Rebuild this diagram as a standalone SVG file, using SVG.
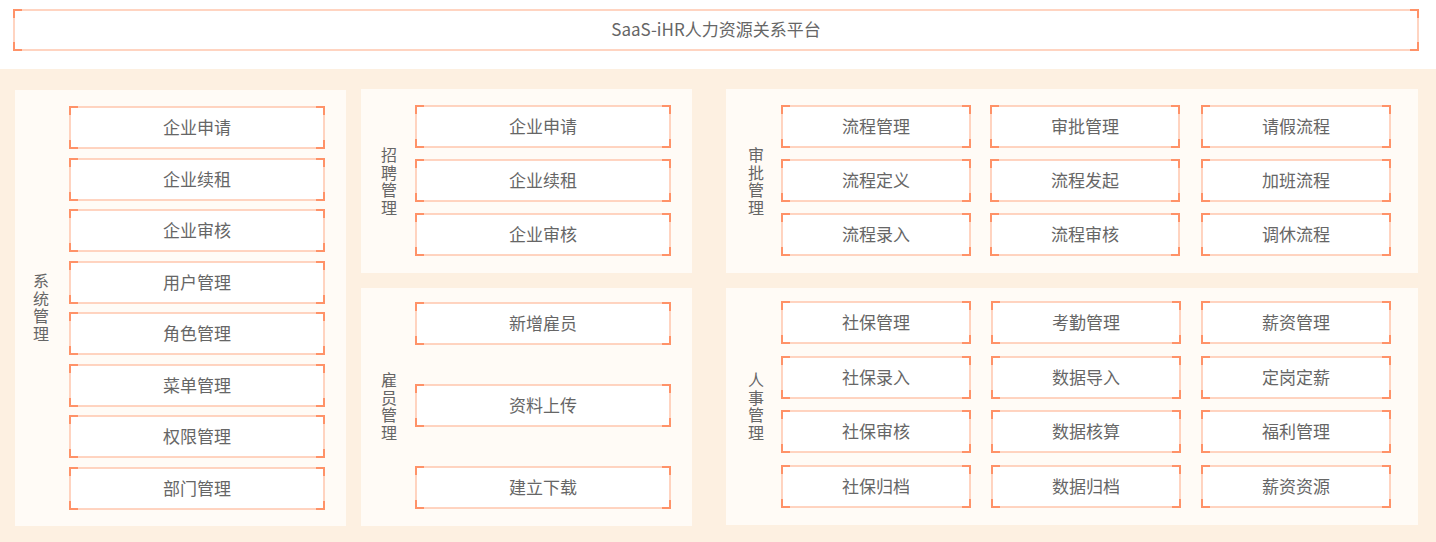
<svg xmlns="http://www.w3.org/2000/svg" width="1436" height="542" viewBox="0 0 1436 542">
<style>
.bg{fill:#fdf0e1}
.panel{fill:#fffbf6}
.box{fill:#ffffff;stroke:#ffc6ad;stroke-width:1.5}
.cn{fill:none;stroke:#ff9268;stroke-width:2}
.t{font-family:"Noto Sans CJK SC","Noto Sans",sans-serif;font-size:17px;fill:#666666;text-anchor:middle}
.v{font-family:"Noto Sans CJK SC","Noto Sans",sans-serif;font-size:16px;fill:#666666;text-anchor:middle;writing-mode:vertical-rl;letter-spacing:1.5px}
</style>
<rect x="0" y="0" width="1436" height="542" fill="#ffffff"/>
<rect class="bg" x="0" y="69" width="1436" height="473"/>

<g id="top">
<rect class="box" x="14" y="10" width="1404" height="40"/>
<path class="cn" d="M14,18V10H22M1410,10H1418V18M1418,42V50H1410M22,50H14V42"/>
<text class="t" x="716" y="36">SaaS-iHR人力资源关系平台</text>
</g>

<g id="panels">
<rect class="panel" x="15" y="90" width="331" height="436"/>
<rect class="panel" x="361" y="89" width="331" height="184"/>
<rect class="panel" x="361" y="288" width="331" height="238"/>
<rect class="panel" x="726" y="89" width="692" height="184"/>
<rect class="panel" x="726" y="288" width="692" height="237"/>
</g>

<g id="labels">
<text class="v" x="41" y="308">系统管理</text>
<text class="v" x="389" y="182">招聘管理</text>
<text class="v" x="389" y="407">雇员管理</text>
<text class="v" x="756" y="182">审批管理</text>
<text class="v" x="756" y="407">人事管理</text>
</g>

<g id="sys">
<g id="sys1"><rect class="box" x="70" y="107" width="254" height="41"/><path class="cn" d="M70,115V107H78M316,107H324V115M324,140V148H316M78,148H70V140"/><text class="t" x="197" y="134">企业申请</text></g>
<g id="sys2"><rect class="box" x="70" y="159" width="254" height="41"/><path class="cn" d="M70,167V159H78M316,159H324V167M324,192V200H316M78,200H70V192"/><text class="t" x="197" y="186">企业续租</text></g>
<g id="sys3"><rect class="box" x="70" y="210" width="254" height="41"/><path class="cn" d="M70,218V210H78M316,210H324V218M324,243V251H316M78,251H70V243"/><text class="t" x="197" y="237">企业审核</text></g>
<g id="sys4"><rect class="box" x="70" y="262" width="254" height="41"/><path class="cn" d="M70,270V262H78M316,262H324V270M324,295V303H316M78,303H70V295"/><text class="t" x="197" y="289">用户管理</text></g>
<g id="sys5"><rect class="box" x="70" y="313" width="254" height="41"/><path class="cn" d="M70,321V313H78M316,313H324V321M324,346V354H316M78,354H70V346"/><text class="t" x="197" y="340">角色管理</text></g>
<g id="sys6"><rect class="box" x="70" y="365" width="254" height="41"/><path class="cn" d="M70,373V365H78M316,365H324V373M324,398V406H316M78,406H70V398"/><text class="t" x="197" y="392">菜单管理</text></g>
<g id="sys7"><rect class="box" x="70" y="416" width="254" height="41"/><path class="cn" d="M70,424V416H78M316,416H324V424M324,449V457H316M78,457H70V449"/><text class="t" x="197" y="443">权限管理</text></g>
<g id="sys8"><rect class="box" x="70" y="468" width="254" height="41"/><path class="cn" d="M70,476V468H78M316,468H324V476M324,501V509H316M78,509H70V501"/><text class="t" x="197" y="495">部门管理</text></g>
</g>

<g id="recruit">
<g id="rec1"><rect class="box" x="416" y="106" width="254" height="41"/><path class="cn" d="M416,114V106H424M662,106H670V114M670,139V147H662M424,147H416V139"/><text class="t" x="543" y="133">企业申请</text></g>
<g id="rec2"><rect class="box" x="416" y="160" width="254" height="41"/><path class="cn" d="M416,168V160H424M662,160H670V168M670,193V201H662M424,201H416V193"/><text class="t" x="543" y="187">企业续租</text></g>
<g id="rec3"><rect class="box" x="416" y="214" width="254" height="41"/><path class="cn" d="M416,222V214H424M662,214H670V222M670,247V255H662M424,255H416V247"/><text class="t" x="543" y="241">企业审核</text></g>
</g>

<g id="employee">
<g id="emp1"><rect class="box" x="416" y="303" width="254" height="41"/><path class="cn" d="M416,311V303H424M662,303H670V311M670,336V344H662M424,344H416V336"/><text class="t" x="543" y="330">新增雇员</text></g>
<g id="emp2"><rect class="box" x="416" y="385" width="254" height="41"/><path class="cn" d="M416,393V385H424M662,385H670V393M670,418V426H662M424,426H416V418"/><text class="t" x="543" y="412">资料上传</text></g>
<g id="emp3"><rect class="box" x="416" y="467" width="254" height="41"/><path class="cn" d="M416,475V467H424M662,467H670V475M670,500V508H662M424,508H416V500"/><text class="t" x="543" y="494">建立下载</text></g>
</g>

<g id="approval">
<g id="ap1"><rect class="box" x="782" y="106" width="188" height="41"/><path class="cn" d="M782,114V106H790M962,106H970V114M970,139V147H962M790,147H782V139"/><text class="t" x="876" y="133">流程管理</text></g>
<g id="ap2"><rect class="box" x="991" y="106" width="188" height="41"/><path class="cn" d="M991,114V106H999M1171,106H1179V114M1179,139V147H1171M999,147H991V139"/><text class="t" x="1085" y="133">审批管理</text></g>
<g id="ap3"><rect class="box" x="1202" y="106" width="188" height="41"/><path class="cn" d="M1202,114V106H1210M1382,106H1390V114M1390,139V147H1382M1210,147H1202V139"/><text class="t" x="1296" y="133">请假流程</text></g>
<g id="ap4"><rect class="box" x="782" y="160" width="188" height="41"/><path class="cn" d="M782,168V160H790M962,160H970V168M970,193V201H962M790,201H782V193"/><text class="t" x="876" y="187">流程定义</text></g>
<g id="ap5"><rect class="box" x="991" y="160" width="188" height="41"/><path class="cn" d="M991,168V160H999M1171,160H1179V168M1179,193V201H1171M999,201H991V193"/><text class="t" x="1085" y="187">流程发起</text></g>
<g id="ap6"><rect class="box" x="1202" y="160" width="188" height="41"/><path class="cn" d="M1202,168V160H1210M1382,160H1390V168M1390,193V201H1382M1210,201H1202V193"/><text class="t" x="1296" y="187">加班流程</text></g>
<g id="ap7"><rect class="box" x="782" y="214" width="188" height="41"/><path class="cn" d="M782,222V214H790M962,214H970V222M970,247V255H962M790,255H782V247"/><text class="t" x="876" y="241">流程录入</text></g>
<g id="ap8"><rect class="box" x="991" y="214" width="188" height="41"/><path class="cn" d="M991,222V214H999M1171,214H1179V222M1179,247V255H1171M999,255H991V247"/><text class="t" x="1085" y="241">流程审核</text></g>
<g id="ap9"><rect class="box" x="1202" y="214" width="188" height="41"/><path class="cn" d="M1202,222V214H1210M1382,214H1390V222M1390,247V255H1382M1210,255H1202V247"/><text class="t" x="1296" y="241">调休流程</text></g>
</g>

<g id="hr">
<g id="hr1"><rect class="box" x="782" y="302" width="188" height="41"/><path class="cn" d="M782,310V302H790M962,302H970V310M970,335V343H962M790,343H782V335"/><text class="t" x="876" y="329">社保管理</text></g>
<g id="hr2"><rect class="box" x="992" y="302" width="188" height="41"/><path class="cn" d="M992,310V302H1000M1172,302H1180V310M1180,335V343H1172M1000,343H992V335"/><text class="t" x="1086" y="329">考勤管理</text></g>
<g id="hr3"><rect class="box" x="1202" y="302" width="188" height="41"/><path class="cn" d="M1202,310V302H1210M1382,302H1390V310M1390,335V343H1382M1210,343H1202V335"/><text class="t" x="1296" y="329">薪资管理</text></g>
<g id="hr4"><rect class="box" x="782" y="357" width="188" height="41"/><path class="cn" d="M782,365V357H790M962,357H970V365M970,390V398H962M790,398H782V390"/><text class="t" x="876" y="384">社保录入</text></g>
<g id="hr5"><rect class="box" x="992" y="357" width="188" height="41"/><path class="cn" d="M992,365V357H1000M1172,357H1180V365M1180,390V398H1172M1000,398H992V390"/><text class="t" x="1086" y="384">数据导入</text></g>
<g id="hr6"><rect class="box" x="1202" y="357" width="188" height="41"/><path class="cn" d="M1202,365V357H1210M1382,357H1390V365M1390,390V398H1382M1210,398H1202V390"/><text class="t" x="1296" y="384">定岗定薪</text></g>
<g id="hr7"><rect class="box" x="782" y="411" width="188" height="41"/><path class="cn" d="M782,419V411H790M962,411H970V419M970,444V452H962M790,452H782V444"/><text class="t" x="876" y="438">社保审核</text></g>
<g id="hr8"><rect class="box" x="992" y="411" width="188" height="41"/><path class="cn" d="M992,419V411H1000M1172,411H1180V419M1180,444V452H1172M1000,452H992V444"/><text class="t" x="1086" y="438">数据核算</text></g>
<g id="hr9"><rect class="box" x="1202" y="411" width="188" height="41"/><path class="cn" d="M1202,419V411H1210M1382,411H1390V419M1390,444V452H1382M1210,452H1202V444"/><text class="t" x="1296" y="438">福利管理</text></g>
<g id="hr10"><rect class="box" x="782" y="466" width="188" height="41"/><path class="cn" d="M782,474V466H790M962,466H970V474M970,499V507H962M790,507H782V499"/><text class="t" x="876" y="493">社保归档</text></g>
<g id="hr11"><rect class="box" x="992" y="466" width="188" height="41"/><path class="cn" d="M992,474V466H1000M1172,466H1180V474M1180,499V507H1172M1000,507H992V499"/><text class="t" x="1086" y="493">数据归档</text></g>
<g id="hr12"><rect class="box" x="1202" y="466" width="188" height="41"/><path class="cn" d="M1202,474V466H1210M1382,466H1390V474M1390,499V507H1382M1210,507H1202V499"/><text class="t" x="1296" y="493">薪资资源</text></g>
</g>
</svg>
